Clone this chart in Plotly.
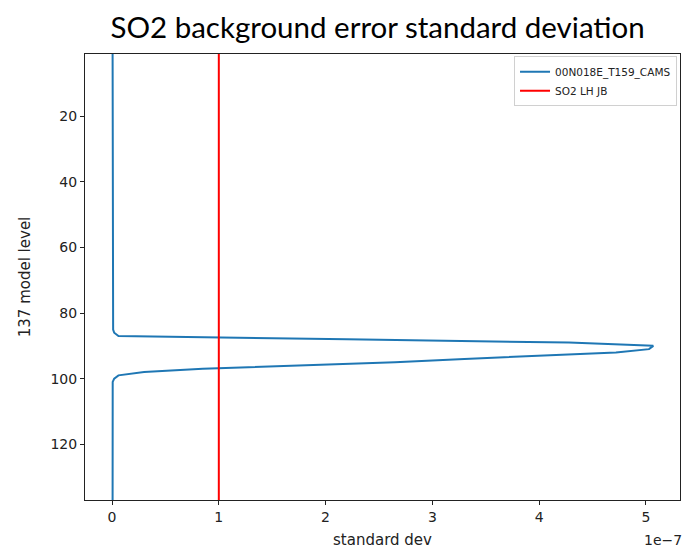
import plotly.graph_objects as go

# Data (x values in units of 1e-7)
model_levels = [1, 84, 85, 86, 87, 88, 89, 90, 91, 92, 93, 94, 95, 96, 97, 98, 99, 100, 101, 137]
std_dev_e7 = [0.005, 0.005, 0.01, 0.02, 0.06, 2.2, 4.28, 5.07, 5.03, 4.72, 3.95, 3.3, 2.65, 1.7, 0.85, 0.3, 0.06, 0.02, 0.006, 0.005]
lh_jb_value_e7 = 1.0
lh_jb_levels = [1, 137]
x_ticks = [0, 1, 2, 3, 4, 5]
y_ticks = [20, 40, 60, 80, 100, 120]
SCALE = 1e-7

fig = go.Figure()
fig.add_trace(go.Scatter(
    x=[v * SCALE for v in std_dev_e7], y=model_levels, mode="lines",
    name="00N018E_T159_CAMS", line=dict(color="#1f77b4", width=2)))
fig.add_trace(go.Scatter(
    x=[lh_jb_value_e7 * SCALE] * len(lh_jb_levels), y=lh_jb_levels, mode="lines",
    name="SO2 LH JB", line=dict(color="red", width=2)))

axis_font = dict(family="DejaVu Sans", size=14, color="#222")
fig.update_layout(
    width=684, height=551,
    margin=dict(l=85, r=4, t=54, b=51),
    paper_bgcolor="white", plot_bgcolor="white",
    title=dict(text="SO2 background error standard deviation",
               font=dict(family="Lato", size=29.5, color="black"),
               x=0.552, xanchor="center", y=0.949, yanchor="middle"),
    showlegend=True,
    legend=dict(x=0.995, y=0.995, xanchor="right", yanchor="top",
                bgcolor="rgba(255,255,255,0.8)", bordercolor="#d0d0d0", borderwidth=1,
                font=dict(family="DejaVu Sans", size=10.5, color="#222"),
                itemwidth=30, tracegroupgap=0),
    xaxis=dict(range=[-0.2535 * SCALE, 5.32 * SCALE],
               tickvals=[t * SCALE for t in x_ticks], ticktext=[str(t) for t in x_ticks],
               ticks="outside", ticklen=4, tickcolor="#222", tickfont=axis_font,
               showline=True, mirror=True, linecolor="#222", linewidth=1,
               showgrid=False, zeroline=False,
               title=dict(text="standard dev", font=dict(family="DejaVu Sans", size=15, color="#222"), standoff=10)),
    yaxis=dict(range=[137, 1],
               tickvals=y_ticks, ticks="outside", ticklen=4, tickcolor="#222", tickfont=axis_font,
               showline=True, mirror=True, linecolor="#222", linewidth=1,
               showgrid=False, zeroline=False,
               title=dict(text="137 model level", font=dict(family="DejaVu Sans", size=15, color="#222"), standoff=16)),
    annotations=[dict(text="1e\u22127", xref="paper", yref="paper", x=1.0, y=-0.09,
                      xanchor="right", yanchor="middle", showarrow=False, xshift=4,
                      font=dict(family="DejaVu Sans", size=14, color="#222"))],
)

fig.write_html("out.html", config={"displayModeBar": False},
               post_script="document.body.style.margin='0px';")
